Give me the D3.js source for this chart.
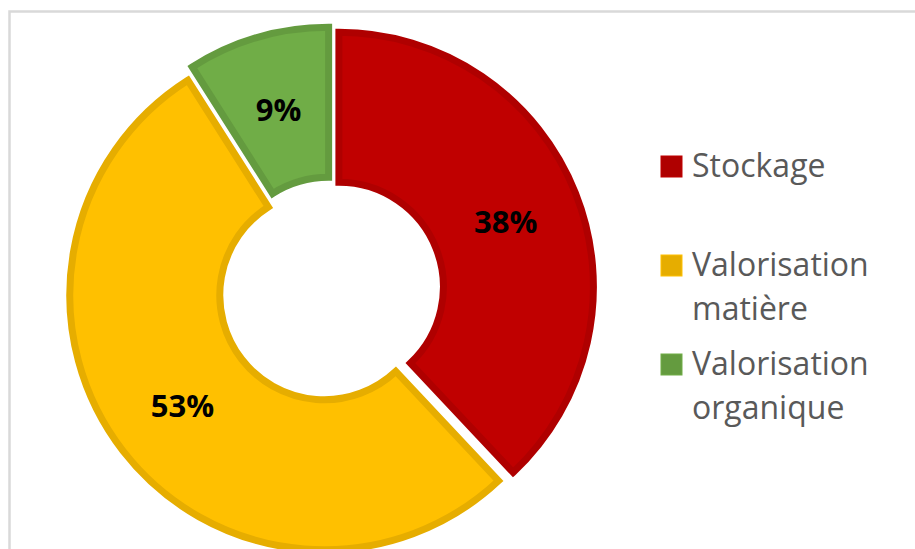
<!DOCTYPE html>
<html>
<head>
<meta charset="utf-8">
<script src="https://cdn.jsdelivr.net/npm/d3@7"></script>
<style>
  html, body { margin: 0; padding: 0; background: #ffffff; }
  svg { display: block; }
</style>
</head>
<body>
<svg id="chart" width="915" height="549"></svg>
<script>
// ---- data ----
const categories = ["Stockage", "Valorisation matière", "Valorisation organique"];
const legendLines = [["Stockage"], ["Valorisation", "matière"], ["Valorisation", "organique"]];
const values = [38, 53, 9];
const labels = ["38%", "53%", "9%"];
const fillColors = ["#C00000", "#FFC000", "#70AD47"];
const strokeColors = ["#AF0000", "#E6AD00", "#649B3F"];

// ---- layout ----
const W = 915, H = 549;
const cx = 331, cy = 290;
const outerR = 254.5, innerR = 104.5;
const explode = 8.5;
const strokeW = 7;

const svg = d3.select("#chart");

// chart area border (cropped on right & bottom)
svg.append("rect")
  .attr("x", 9.5).attr("y", 11.5)
  .attr("width", 1200).attr("height", 1200)
  .attr("fill", "#ffffff")
  .attr("stroke", "#D9D9D9")
  .attr("stroke-width", 2.5);

const pie = d3.pie().sort(null).value(d => d)
  .startAngle(0).endAngle(2 * Math.PI);
const arcs = pie(values);

const arc = d3.arc().innerRadius(innerR).outerRadius(outerR);

const g = svg.append("g").attr("transform", `translate(${cx},${cy})`);

const slices = g.selectAll("g.slice")
  .data(arcs)
  .join("g")
  .attr("class", "slice")
  .attr("transform", d => {
    const a = (d.startAngle + d.endAngle) / 2;
    return `translate(${explode * Math.sin(a)},${-explode * Math.cos(a)})`;
  });

slices.append("path")
  .attr("d", arc)
  .attr("fill", (d, i) => fillColors[i])
  .attr("stroke", (d, i) => strokeColors[i])
  .attr("stroke-width", strokeW)
  .attr("stroke-linejoin", "miter");

slices.append("text")
  .attr("x", d => arc.centroid(d)[0])
  .attr("y", d => arc.centroid(d)[1] + 12)
  .attr("text-anchor", "middle")
  .attr("font-family", "'Open Sans', 'DejaVu Sans', sans-serif")
  .attr("font-weight", "bold")
  .attr("font-size", 31)
  .attr("fill", "#000000")
  .text((d, i) => labels[i]);

// ---- legend ----
const legendX = 661, textX = 692;
const firstBaselines = [177, 276, 375];
const lineH = 44;
const sq = 21;

const leg = svg.append("g");
categories.forEach((c, i) => {
  const b = firstBaselines[i];
  leg.append("rect")
    .attr("x", legendX).attr("y", b - sq)
    .attr("width", sq).attr("height", sq)
    .attr("fill", strokeColors[i])
    .attr("stroke", fillColors[i])
    .attr("stroke-width", 1);
  const t = leg.append("text")
    .attr("x", textX).attr("y", b)
    .attr("font-family", "'Open Sans', 'DejaVu Sans', sans-serif")
    .attr("font-size", 32)
    .attr("fill", "#595959");
  legendLines[i].forEach((ln, j) => {
    t.append("tspan").attr("x", textX).attr("y", b + j * lineH).text(ln);
  });
});
</script>
</body>
</html>
